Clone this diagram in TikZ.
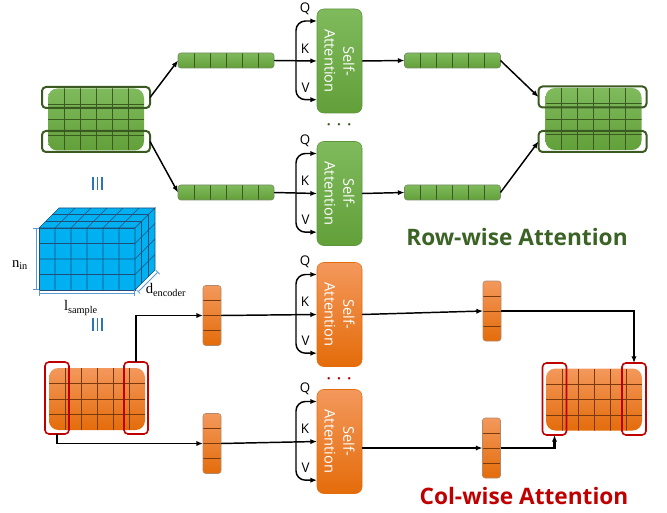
\documentclass[tikz,border=0pt]{standalone}
\usepackage{fontspec}
\setmainfont{Open Sans}
\newfontfamily\dimfont{Liberation Serif}
\usetikzlibrary{arrows.meta,positioning,fit,calc}

\definecolor{rowgreen}{HTML}{70AD47}
\definecolor{rowgreenlt}{HTML}{7FBA5C}
\definecolor{rowgreendk}{HTML}{62A03A}
\definecolor{rowline}{HTML}{3A5A22}
\definecolor{rowtext}{HTML}{3B6326}
\definecolor{colorangelt}{HTML}{F3985C}
\definecolor{colorangedk}{HTML}{E46C0A}
\definecolor{colline}{HTML}{7A3A0E}
\definecolor{colred}{HTML}{C00000}
\definecolor{cubeblue}{HTML}{00B0F0}
\definecolor{cubeline}{HTML}{1F4E79}
\definecolor{dimblue}{HTML}{5B9BD5}
\definecolor{eqblue}{HTML}{2E75B6}

\begin{document}
\begin{tikzpicture}[
	x=0.75pt,y=-0.75pt,
	>={Latex[length=5pt,width=4pt]},
	every node/.style={inner sep=0pt,outer sep=0pt},
	cells/.style n args={3}{path picture={
		\foreach \i in {1,...,#1}{\ifnum\i<#1
			\draw[#3, line width=0.6pt] ($(path picture bounding box.north west)!\i/#1!(path picture bounding box.north east)$) -- ($(path picture bounding box.south west)!\i/#1!(path picture bounding box.south east)$);\fi}
		\foreach \j in {1,...,#2}{\ifnum\j<#2
			\draw[#3, line width=0.6pt] ($(path picture bounding box.north west)!\j/#2!(path picture bounding box.south west)$) -- ($(path picture bounding box.north east)!\j/#2!(path picture bounding box.south east)$);\fi}
	}},
	gmat/.style={rounded corners=7pt, top color=rowgreenlt, bottom color=rowgreendk, minimum width=72pt, minimum height=46.5pt, cells={6}{4}{rowline}},
	omat/.style={rounded corners=7pt, top color=colorangelt, bottom color=colorangedk, minimum width=72pt, minimum height=46.5pt, cells={6}{4}{colline}},
	gvec/.style={draw=rowline!70, line width=0.4pt, rounded corners=2pt, top color=rowgreenlt, bottom color=rowgreendk, minimum width=72pt, minimum height=11.25pt, cells={6}{1}{rowline}},
	ovec/.style={draw=colline!60, line width=0.4pt, rounded corners=2pt, top color=colorangelt, bottom color=colorangedk, minimum width=13.5pt, minimum height=45pt, cells={1}{4}{colline}},
	rowbox/.style={draw=rowline, line width=1.5pt, rounded corners=3pt, minimum width=81pt, minimum height=15.75pt},
	colbox/.style={draw=colred, line width=1.2pt, rounded corners=3pt, minimum width=18pt, minimum height=54pt},
	attn/.style={rounded corners=5pt, minimum width=33.75pt, minimum height=78pt,
		label={[rotate=-90, align=center, text=white, font=\fontsize{11}{14}\selectfont]center:Self-\\Attention}},
	gattn/.style={attn, draw=rowgreen!85!black, line width=0.4pt, top color=rowgreenlt, bottom color=rowgreendk},
	oattn/.style={attn, draw=colorangedk, line width=0.4pt, top color=colorangelt, bottom color=colorangedk},
	link/.style={->, line width=1.1pt},
	qkv/.style={font=\fontsize{10}{12}\selectfont},
	title/.style={font=\fontsize{17}{20}\selectfont\bfseries},
	dimlab/.style={font=\dimfont\fontsize{11}{13}\selectfont},
	dim/.style={dimblue, line width=0.6pt, {Bar[width=4pt]}-{Bar[width=4pt]}},
	eqbar/.style={eqblue, line width=1.2pt}
	]
	\useasboundingbox (0,0) rectangle (667,513);
	
	% --------------------------
	% Row-wise attention (green)
	% --------------------------
	\node[gmat] (gin) at (96,119.5) {};
	\node[rowbox] (ginT) at (96,97.5) {};
	\node[rowbox] (ginB) at (96,141.5) {};
	
	\node[gvec] (gva) at (226,60.5) {};
	\node[gvec] (gvb) at (226,192.5) {};
	
	\node[gattn] (att1) at (339.5,61) {};
	\node[gattn] (att2) at (339.5,193.5) {};
	\node[text=rowline, font=\LARGE] (gdots) at (339,125) {$\cdots$};
	
	\node[gvec] (gvc) at (452.5,60.5) {};
	\node[gvec] (gvd) at (452.5,192.5) {};
	
	\node[gmat] (gout) at (593.5,119) {};
	\node[rowbox] (goT) at (592.5,97) {};
	\node[rowbox] (goB) at (592.5,141.5) {};
	
	\draw[link] (ginT.east) -- (gva.west);
	\draw[link] (ginB.east) -- (gvb.west);
	\draw[link] (gva.east) -- (att1.west);
	\draw[link] (gvb.east) -- (att2.west);
	\draw[link] (att1.east) -- (gvc.west);
	\draw[link] (att2.east) -- (gvd.west);
	\draw[link] (gvc.east) -- (goT.west);
	\draw[link] (gvd.east) -- (goB.west);
	
	\node[title, text=rowtext] (rowt) at (517,237) {Row-wise Attention};
	
	% --------------------------
	% Input cube
	% --------------------------
	\begin{scope}[cubeline, line width=0.5pt]
		\filldraw[fill=cubeblue] (39,228) rectangle (135,290);
		\filldraw[fill=cubeblue] (39,228) -- (59,208) -- (155,208) -- (135,228) -- cycle;
		\filldraw[fill=cubeblue] (135,228) -- (155,208) -- (155,270) -- (135,290) -- cycle;
		\foreach \k in {1,...,5} \draw (39+16*\k,290) -- (39+16*\k,228) -- (59+16*\k,208);
		\foreach \k in {1,2,3} \draw (39,228+15.5*\k) -- (135,228+15.5*\k) -- (155,208+15.5*\k);
		\foreach \t in {1,2} \draw (39+20*\t/3,228-20*\t/3) -- (135+20*\t/3,228-20*\t/3) -- (135+20*\t/3,290-20*\t/3);
	\end{scope}
	\draw[dim] (36,228) -- (36,290);
	\draw[dim] (39,293) -- (135,293);
	\draw[dim] (138,292) -- (158,272);
	\node[dimlab] (nin) at (20,265) {n\textsubscript{in}};
	\node[dimlab] (lsam) at (81,308) {l\textsubscript{sample}};
	\node[dimlab] (denc) at (166,290) {d\textsubscript{encoder}};
	
	% equivalence marks
	\foreach \x in {93,97.5,102} \draw[eqbar] (\x,177) -- (\x,190);
	\foreach \x in {93,97.5,102} \draw[eqbar] (\x,318) -- (\x,331);
	
	% --------------------------
	% Col-wise attention (orange)
	% --------------------------
	\node[omat] (oin) at (97,399) {};
	\node[colbox] (rL) at (57,398) {};
	\node[colbox] (rR) at (136,398) {};
	
	\node[ovec] (ova) at (212,315.5) {};
	\node[ovec] (ovb) at (212,443.5) {};
	
	\node[oattn] (att3) at (339.5,314.5) {};
	\node[oattn] (att4) at (339.5,441.5) {};
	\node[text=colred!85!black, font=\LARGE] (odots) at (339,379) {$\cdots$};
	
	\node[ovec] (ovc) at (492,311) {};
	\node[ovec] (ovd) at (491.5,448) {};
	
	\node[omat] (oout) at (594,399.5) {};
	\node[colbox] (roL) at (554.5,399) {};
	\node[colbox] (roR) at (634,399) {};
	
	\draw[link] (rR.north) |- (ova.west);
	\draw[link] (rL.south) |- (ovb.west);
	\draw[link] (ova.east) -- (att3.west);
	\draw[link] (ovb.east) -- (att4.west);
	\draw[link] (att3.east) -- (ovc.west);
	\draw[link] (att4.east |- ovd.west) -- (ovd.west);
	\draw[link] (ovc.east) -| (roR.north);
	\draw[link, line width=1.6pt] (ovd.east) -| (roL.south);
	
	\node[title, text=colred] (colt) at (524,496) {Col-wise Attention};
	
	% Q, K, V inputs of every attention block
	\foreach \a in {att1,att2,att3,att4}{
		\coordinate (\a-b) at ([xshift=-15.75pt]\a.west);
		\draw[link, rounded corners=7pt] (\a-b) |- ([yshift=30pt]\a.west);
		\draw[link, rounded corners=7pt] (\a-b) |- ([yshift=-29pt]\a.west);
		\node[qkv] (\a-q) at ([xshift=-9pt,yshift=39.5pt]\a.west) {Q};
		\node[qkv] (\a-k) at ([xshift=-9pt,yshift=9.5pt]\a.west) {K};
		\node[qkv] (\a-v) at ([xshift=-8.5pt,yshift=-20pt]\a.west) {V};
	}
	
\end{tikzpicture}
\end{document}
